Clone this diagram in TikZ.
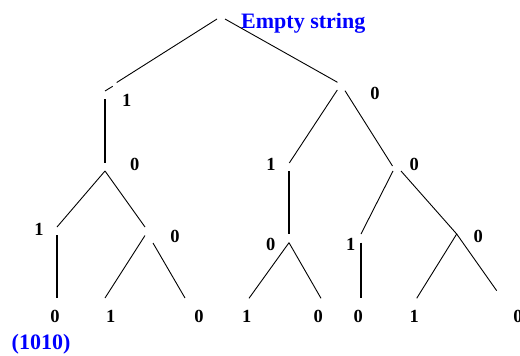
\documentclass[tikz,border=0pt]{standalone}
\usepackage{fontspec}
\setmainfont{Liberation Serif}
\begin{document}
\begin{tikzpicture}[x=1pt,y=-1pt,
  edge/.style={line width=0.9pt},
  thick edge/.style={line width=2pt},
  lab/.style={font=\fontsize{18.5}{20}\selectfont\bfseries, inner sep=0pt, anchor=base},
  bluelab/.style={font=\fontsize{22}{24}\selectfont\bfseries, text=blue, inner sep=0pt}]
\useasboundingbox (0,0) rectangle (520,356);
% labels
\node[bluelab, anchor=base west] (root) at (241,28.3) {Empty string};
\node[bluelab, anchor=base west] (res) at (11.5,349) {(1010)};
\node[lab] (a) at (126.7,106.7) {1};
\node[lab] (b) at (134.7,170.7) {0};
\node[lab] (c) at (39,235) {1};
\node[lab] (d) at (175,242.3) {0};
\node[lab] (e) at (375,99) {0};
\node[lab] (f) at (271,170.7) {1};
\node[lab] (h) at (414.3,170.7) {0};
\node[lab] (g) at (270.7,250.7) {0};
\node[lab] (i) at (350.7,250.7) {1};
\node[lab] (j) at (478.3,242.3) {0};
\node[lab] (l1) at (55,322.7) {0};
\node[lab] (l2) at (110.7,322.7) {1};
\node[lab] (l3) at (199,322.7) {0};
\node[lab] (l4) at (246.7,322.7) {1};
\node[lab] (l5) at (318.3,322.7) {0};
\node[lab] (l6) at (358.3,322.7) {0};
\node[lab] (l7) at (414.3,322.7) {1};
\node[lab] (l8) at (518,322.7) {0};
% line end points
\coordinate (r1) at (217,19);
\coordinate (r2) at (225,19);
\coordinate (a1) at (116.7,82.5);
\coordinate (a2) at (112.7,86.3);
\coordinate (a3) at (105,91);
\coordinate (a4) at (105,99);
\coordinate (b0) at (105,163);
\coordinate (b1) at (105,171);
\coordinate (c0) at (57,227);
\coordinate (c1) at (57,235);
\coordinate (c2) at (57,298);
\coordinate (d0) at (145,227);
\coordinate (d1) at (145,235.5);
\coordinate (d2) at (153,243);
\coordinate (d3) at (105,298);
\coordinate (d4) at (185,298);
\coordinate (e0) at (337.5,82.3);
\coordinate (e1) at (337.3,90);
\coordinate (e2) at (345,90.7);
\coordinate (f0) at (289.3,163);
\coordinate (f1) at (289,171);
\coordinate (f2) at (289,234.3);
\coordinate (g1) at (289,242.7);
\coordinate (g2) at (249,298.3);
\coordinate (g3) at (321,298.3);
\coordinate (h0) at (392.5,166);
\coordinate (h1) at (393,171);
\coordinate (h2) at (401,171);
\coordinate (i0) at (361,234);
\coordinate (i1) at (361,242.7);
\coordinate (i2) at (361,298.3);
\coordinate (j0) at (456.7,234);
\coordinate (j3) at (416.7,298.3);
\coordinate (j4) at (496.7,290.7);
% connectors
\draw[edge] (r1) -- (a1);
\draw[edge] (a2) -- (a3);
\draw[thick edge] (a4) -- (b0);
\draw[edge] (r2) -- (e0);
\draw[edge] (b1) -- (c0);
\draw[edge] (b1) -- (d0);
\draw[thick edge] (c1) -- (c2);
\draw[edge] (d1) -- (d3);
\draw[edge] (d2) -- (d4);
\draw[edge] (e1) -- (f0);
\draw[edge] (e2) -- (h0);
\draw[thick edge] (f1) -- (f2);
\draw[edge] (g1) -- (g2);
\draw[edge] (g1) -- (g3);
\draw[edge] (h1) -- (i0);
\draw[edge] (h2) -- (j0);
\draw[thick edge] (i1) -- (i2);
\draw[edge] (j0) -- (j3);
\draw[edge] (j0) -- (j4);
\end{tikzpicture}
\end{document}
